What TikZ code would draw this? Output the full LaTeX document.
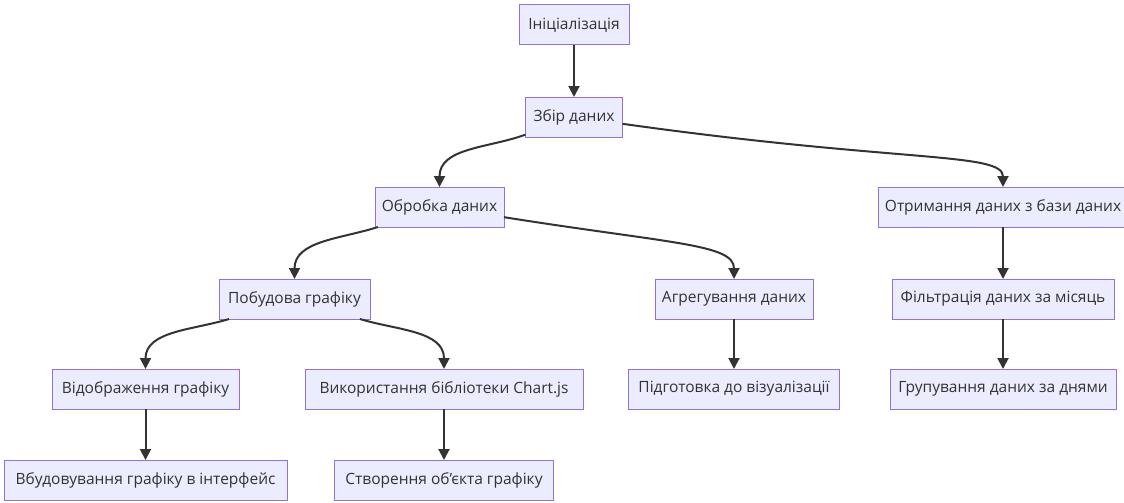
\documentclass[tikz,border=0pt]{standalone}
\usepackage{fontspec}
\setmainfont{Open Sans}
\usetikzlibrary{arrows.meta,positioning}
\definecolor{boxfill}{HTML}{ECECFF}
\definecolor{boxline}{HTML}{9370DB}
\definecolor{ink}{HTML}{333333}
\tikzset{
  base/.style={font=\fontsize{15.5}{18}\selectfont, text=ink, align=center, inner sep=2pt, outer sep=0mm},
  block/.style={rectangle, draw=boxline, line width=1pt, fill=boxfill, minimum height=40pt, base},
  arrow/.style={-{Triangle[length=11pt,width=11pt]}, line width=2pt, color=ink}
}

\begin{document}
\begin{tikzpicture}[x=1pt, y=-1pt, node distance=50pt]
  \useasboundingbox (0,0) rectangle (1124,503);

  \node[block, minimum width=110pt] (init) at (574,25) {Ініціалізація};
  \node[block, minimum width=97pt, below=52pt of init] (collect) {Збір даних};
  \node[block, minimum width=129pt] (process) at (439.5,207) {Обробка даних};
  \node[block, minimum width=250pt] (fetch) at (1003,207) {Отримання даних з бази даних};
  \node[block, minimum width=151pt] (chart) at (294.5,299) {Побудова графіку};
  \node[block, minimum width=158pt] (aggregate) at (734,299) {Агрегування даних};
  \node[block, minimum width=222pt, below=52pt of fetch] (filter) {Фільтрація даних за місяць};
  \node[block, minimum width=187pt] (display) at (145.5,389) {Відображення графіку};
  \node[block, minimum width=278pt] (chartjs) at (444,389) {Використання бібліотеки Chart.js};
  \node[block, minimum width=211pt, below=of aggregate] (prepare) {Підготовка до візуалізації};
  \node[block, minimum width=226pt, below=of filter] (group) {Групування даних за днями};
  \node[block, minimum width=283pt, below=51pt of display] (embed) {Вбудовування графіку в інтерфейс};
  \node[block, minimum width=219pt, below=51pt of chartjs] (create) {Створення об’єкта графіку};

  \draw[arrow] (init) -- (collect);
  \draw[arrow] (collect) to[out=200, in=90] (process);
  \draw[arrow] (collect) to[out=-8, in=90, out distance=280pt, in distance=35pt] (fetch);
  \draw[arrow] (process) to[out=198, in=90] (chart);
  \draw[arrow] (process) to[out=-9, in=90, out distance=170pt, in distance=35pt] (aggregate);
  \draw[arrow] (fetch) -- (filter);
  \draw[arrow] (chart) to[out=197, in=90] (display);
  \draw[arrow] (chart) to[out=-17, in=90] (chartjs);
  \draw[arrow] (aggregate) -- (prepare);
  \draw[arrow] (filter) -- (group);
  \draw[arrow] (display) -- (embed);
  \draw[arrow] (chartjs) -- (create);
\end{tikzpicture}
\end{document}
